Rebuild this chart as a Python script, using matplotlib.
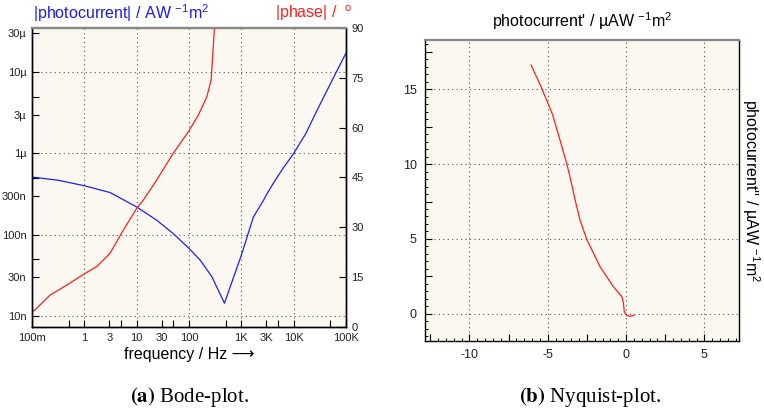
import matplotlib
matplotlib.use("Agg")
import matplotlib.pyplot as plt
from matplotlib.ticker import FixedLocator, FuncFormatter, MultipleLocator

plt.rcParams['font.family'] = ['Liberation Sans', 'DejaVu Sans']
plt.rcParams['mathtext.fontset'] = 'custom'
plt.rcParams['mathtext.rm'] = 'Liberation Sans'
plt.rcParams['mathtext.it'] = 'Liberation Sans:italic'
plt.rcParams['mathtext.default'] = 'regular'

# ---------------- data ---------------- #
# Bode: |photocurrent| (A/W m^2) over frequency
f_mag = [0.1, 0.32, 1, 3.1, 10, 24, 50, 100, 163, 273, 475,
         1000, 1700, 2650, 3100, 4430, 6500, 9900, 17000, 27800, 57700, 100000]
mag = [512e-9, 467e-9, 400e-9, 330e-9, 219e-9, 151e-9, 103e-9, 67.7e-9, 48.6e-9, 30.4e-9, 14.3e-9,
       56e-9, 165e-9, 265e-9, 320e-9, 467e-9, 680e-9, 0.99e-6, 1.75e-6, 3.37e-6, 8.6e-6, 17.2e-6]

# Bode: |phase| (deg)
f_ph = [0.1, 0.221, 0.46, 1, 1.73, 3.1, 5.57, 10, 13.4, 24, 50, 97.5, 151, 219, 265, 306]
phase = [4.3, 9.6, 12.6, 16.0, 18.2, 22.2, 29.2, 35.7, 38.2, 44.2, 52.3, 58.8, 63.8, 69.3, 74.4, 90]

# Nyquist (uA/W m^2)
re_pc = [-6.06, -5.38, -4.68, -3.79, -3.53, -3.25, -2.94, -2.51, -1.66, -0.81,
         -0.27, -0.17, -0.11, 0.04, 0.26, 0.51]
im_pc = [16.6, 15.05, 13.27, 10.05, 8.93, 7.6, 6.27, 4.98, 3.15, 1.82,
         1.15, 0.75, 0.15, -0.11, -0.15, -0.09]

# tick setup
x_major = [0.1, 1, 10, 100, 1e3, 1e4, 1e5]
x_major_lbl = ['100m', '1', '10', '100', '1K', '10K', '100K']
x_minor = [0.5, 3, 5, 30, 50, 500, 3e3, 5e3, 5e4]
x_minor_lbl = {3: '3', 30: '30', 3e3: '3K'}

y_major = [1e-8, 1e-7, 1e-6, 1e-5]
y_major_lbl = ['10n', '100n', '1µ', '10µ']
y_minor = [3e-8, 5e-8, 3e-7, 5e-7, 3e-6, 5e-6, 3e-5]
y_minor_lbl = {3e-8: '30n', 3e-7: '300n', 3e-6: '3µ', 3e-5: '30µ'}

bg = '#faf8f0'
grid_kw = dict(color='#555555', linestyle=(0, (1, 3)), linewidth=0.8)


def lookup(table):
    def fmt(v, pos):
        for k, s in table.items():
            if abs(v - k) / k < 1e-3:
                return s
        return ''
    return fmt


fig = plt.figure(figsize=(7.64, 4.19), dpi=100)

# ----------------- (a) Bode ----------------- #
ax = fig.add_axes([0.0419, 0.2196, 0.411, 0.7136])
ax.set_facecolor(bg)
ax.set_xscale('log')
ax.set_yscale('log')
ax.plot(f_mag, mag, color='#2020ff', lw=0.9)
ax.set_xlim(0.1, 1e5)
ax.set_ylim(7.3e-9, 3.5e-5)

ax.xaxis.set_major_locator(FixedLocator(x_major))
ax.xaxis.set_major_formatter(FuncFormatter(lambda v, p: x_major_lbl[p] if p is not None and p < len(x_major_lbl) else ''))
ax.xaxis.set_minor_locator(FixedLocator(x_minor))
ax.xaxis.set_minor_formatter(FuncFormatter(lookup(x_minor_lbl)))
ax.yaxis.set_major_locator(FixedLocator(y_major))
ax.yaxis.set_major_formatter(FuncFormatter(lambda v, p: y_major_lbl[p] if p is not None and p < len(y_major_lbl) else ''))
ax.yaxis.set_minor_locator(FixedLocator(y_minor))
ax.yaxis.set_minor_formatter(FuncFormatter(lookup(y_minor_lbl)))
ax.tick_params(which='both', direction='in', length=5, width=0.8, labelsize=8,
               colors='black', labelcolor='#222222', pad=4, top=False, right=False)
ax.grid(True, which='major', **grid_kw)
ax.set_xlabel('frequency / Hz ⟶', fontsize=11.5, labelpad=3)

ax2 = ax.twinx()
ax2.plot(f_ph, phase, color='#ff2020', lw=0.9)
ax2.set_ylim(0, 90)
ax2.set_yticks([0, 15, 30, 45, 60, 75, 90])
ax2.tick_params(direction='in', length=5, width=0.8, labelsize=8, labelcolor='#222222', pad=4)

for a in (ax, ax2):
    for s in ('left', 'right', 'bottom'):
        a.spines[s].set_color('black')
        a.spines[s].set_linewidth(1.0)
    a.spines['top'].set_color('#888888')
    a.spines['top'].set_linewidth(1.6)

fig.text(0.043, 0.968, '|photocurrent| / AW $^{-1}$m$^{2}$', color='#1a1aff',
         fontsize=11.5, ha='left', va='center')
fig.text(0.462, 0.968, '|phase| /  $^{o}$', color='#ff2020',
         fontsize=11.5, ha='right', va='center')

# ----------------- (b) Nyquist ----------------- #
bx = fig.add_axes([0.5563, 0.1862, 0.4114, 0.7184])
bx.set_facecolor(bg)
bx.plot(re_pc, im_pc, color='#ff2020', lw=0.9)
bx.set_xlim(-12.83, 7.23)
bx.set_ylim(-1.8, 18.27)
bx.xaxis.set_major_locator(MultipleLocator(2.5))
bx.yaxis.set_major_locator(MultipleLocator(2.5))
bx.xaxis.set_minor_locator(MultipleLocator(0.5))
bx.yaxis.set_minor_locator(MultipleLocator(0.5))
five = FuncFormatter(lambda v, p: '%d' % round(v) if abs(v / 5 - round(v / 5)) < 1e-6 else '')
bx.xaxis.set_major_formatter(five)
bx.yaxis.set_major_formatter(five)
bx.tick_params(which='major', direction='in', length=5, width=0.8, labelsize=9,
               labelcolor='#222222', pad=6, top=False, right=False)
bx.tick_params(which='minor', direction='in', length=2.5, width=0.7, top=False, right=False)
bx.grid(True, which='major', **grid_kw)
fig.canvas.draw()
for t in bx.xaxis.get_major_ticks() + bx.yaxis.get_major_ticks():
    v = t.get_loc()
    if abs(v / 5 - round(v / 5)) > 1e-6:
        t.gridline.set_visible(False)
for s in ('left', 'right', 'bottom'):
    bx.spines[s].set_color('black')
    bx.spines[s].set_linewidth(1.0)
bx.spines['top'].set_color('#888888')
bx.spines['top'].set_linewidth(1.6)

bx.set_title("photocurrent' / µAW $^{-1}$m$^{2}$", fontsize=11.5, pad=9)
bx.yaxis.set_label_position('right')
bx.set_ylabel("photocurrent'' / µAW $^{-1}$m$^{2}$", fontsize=11.5, rotation=270, labelpad=16)

# captions
fig.text(0.248, 0.052, r'$\mathbf{(a)}$ Bode-plot.', fontsize=15, ha='center', va='center',
         family='Liberation Serif', math_fontfamily='stix')
fig.text(0.772, 0.052, r'$\mathbf{(b)}$ Nyquist-plot.', fontsize=15, ha='center', va='center',
         family='Liberation Serif', math_fontfamily='stix')

fig.savefig('out.png', dpi=100)
